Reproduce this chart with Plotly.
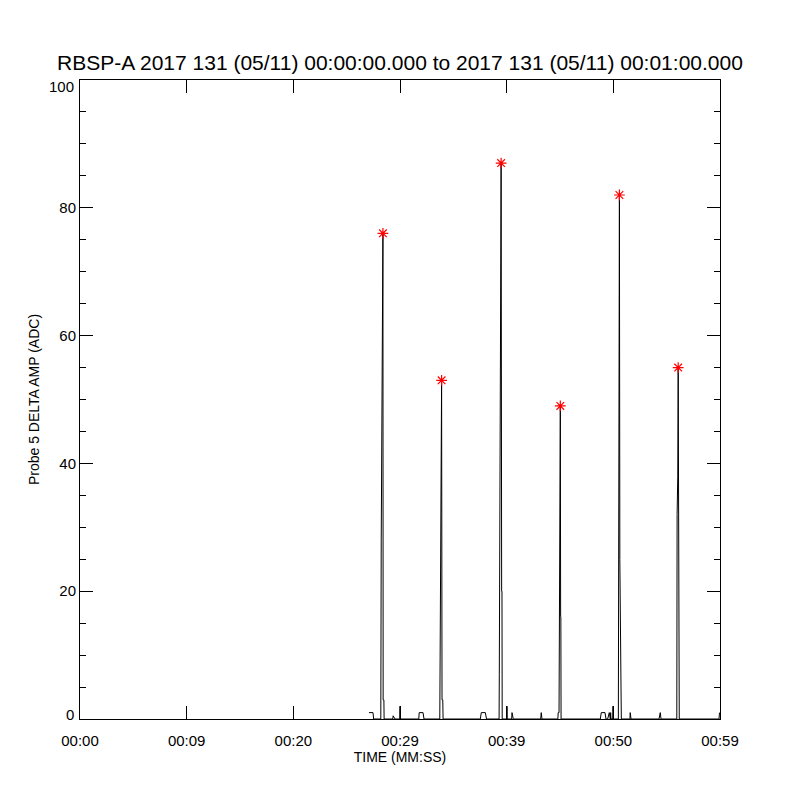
import plotly.graph_objects as go

# Time (seconds after 00:00:00) and Probe 5 delta amplitude (ADC)
time_s = [
    27.09, 27.47, 27.53,
    28.20, 28.24, 28.33, 28.40, 28.42, 28.49, 28.51,
    29.32, 29.36, 29.53,
    29.98, 30.00, 30.02,
    31.76, 31.80, 32.16, 32.25,
    33.73, 33.77, 33.84, 33.90, 33.94, 34.01, 34.04,
    37.53, 37.62, 38.00, 38.11,
    39.29, 39.31, 39.43, 39.48, 39.53, 39.56, 39.58,
    40.01, 40.03, 40.05,
    40.47, 40.50, 40.62,
    43.19, 43.24, 43.31,
    44.80, 44.83, 44.91, 44.94, 45.00, 45.03, 45.06, 45.08, 45.10,
    48.78, 48.87, 49.22, 49.31,
    49.47, 49.62, 49.72, 49.75, 49.78,
    49.95, 49.97, 49.99,
    50.47, 50.49, 50.54, 50.57, 50.61, 50.65, 50.72, 50.75,
    51.56, 51.58, 51.66,
    54.28, 54.33, 54.40, 54.47,
    55.95, 55.98, 56.04, 56.08, 56.12, 56.16, 56.18,
    59.91, 59.95,
]
amp_adc = [
    1, 1, 0,
    0, 28, 66, 76, 3, 3, 0,
    0, 0.5, 0,
    0, 2, 0,
    0, 1, 1, 0,
    0, 13, 30, 53, 3, 3, 0,
    0, 1, 1, 0,
    0, 7, 51, 87, 20, 20, 0,
    0, 2, 0,
    0, 1, 0,
    0, 1, 0,
    0, 1, 1, 16, 41, 49, 16, 16, 0,
    0, 1, 1, 0,
    0, 1, 0, 1, 0,
    0, 2, 0,
    0, 25, 46, 82, 25, 5, 5, 0,
    0, 1, 0,
    0, 1, 1, 0,
    0, 32, 38, 55, 32, 32, 0,
    0, 1,
]

# Peak markers (red asterisks)
peak_time_s = [28.40, 33.90, 39.48, 45.03, 50.57, 56.08]
peak_amp_adc = [76, 53, 87, 49, 82, 55]

x_tick_vals = [0, 10, 20, 30, 40, 50, 60]
x_tick_text = ["00:00", "00:09", "00:20", "00:29", "00:39", "00:50", "00:59"]
y_tick_vals = [0, 20, 40, 60, 80, 100]
y_tick_text = ["0", "20", "40", "60", "80", "100"]

title_text = "RBSP-A 2017 131 (05/11) 00:00:00.000 to 2017 131 (05/11) 00:01:00.000"

FONT = "Liberation Sans"
PAGE_OFFSET = 8  # default body margin of the html page

# The end labels (0 and 100) sit slightly inside the axis range, as in the reference
end_label_shift = {0: 5, 100: -6}
axis_tick_text = ["" if v in end_label_shift else t for v, t in zip(y_tick_vals, y_tick_text)]

fig = go.Figure()
fig.add_trace(go.Scatter(
    x=time_s, y=amp_adc, mode="lines",
    line=dict(color="black", width=1),
    showlegend=False, hoverinfo="skip",
))
fig.add_trace(go.Scatter(
    x=peak_time_s, y=peak_amp_adc, mode="markers",
    marker=dict(symbol="asterisk-open", size=9, color="red",
                line=dict(color="red", width=1.2)),
    showlegend=False,
))

for v, t in zip(y_tick_vals, y_tick_text):
    if v in end_label_shift:
        fig.add_annotation(
            x=0, xref="paper", y=v, yref="y", text=t, showarrow=False,
            xanchor="right", yanchor="middle", xshift=-4, yshift=end_label_shift[v],
            font=dict(family=FONT, size=15, color="black"),
        )

fig.update_layout(
    width=800, height=800,
    margin=dict(l=80 - PAGE_OFFSET, r=80 + PAGE_OFFSET,
                t=80 - PAGE_OFFSET, b=81 + PAGE_OFFSET, autoexpand=False),
    paper_bgcolor="white", plot_bgcolor="white",
    font=dict(family=FONT, color="black"),
    title=dict(text=title_text, x=(400 - PAGE_OFFSET) / 800, xanchor="center",
               y=1 - (63 - PAGE_OFFSET) / 800, yanchor="middle", yref="container",
               font=dict(family=FONT, size=21, color="black")),
)
fig.update_xaxes(
    range=[0, 60], showgrid=False, zeroline=False,
    showline=True, linecolor="black", linewidth=1, mirror="ticks",
    ticks="inside", ticklen=13, tickwidth=1, tickcolor="black",
    tickvals=x_tick_vals, ticktext=x_tick_text,
    tickfont=dict(family=FONT, size=15, color="black"),
    ticklabelstandoff=8,
    title=dict(text="TIME (MM:SS)", standoff=4,
               font=dict(family=FONT, size=14, color="black")),
)
fig.update_yaxes(
    range=[0, 100], showgrid=False, zeroline=False,
    showline=True, linecolor="black", linewidth=1, mirror="ticks",
    ticks="inside", ticklen=13, tickwidth=1, tickcolor="black",
    tickvals=y_tick_vals, ticktext=axis_tick_text,
    minor=dict(ticks="inside", ticklen=6, dtick=5, tickcolor="black", tickwidth=1, showgrid=False),
    tickfont=dict(family=FONT, size=15, color="black"),
    ticklabelstandoff=0,
    title=dict(text="Probe 5 DELTA AMP (ADC)", standoff=16,
               font=dict(family=FONT, size=14, color="black")),
)

fig.write_html("out.html")
